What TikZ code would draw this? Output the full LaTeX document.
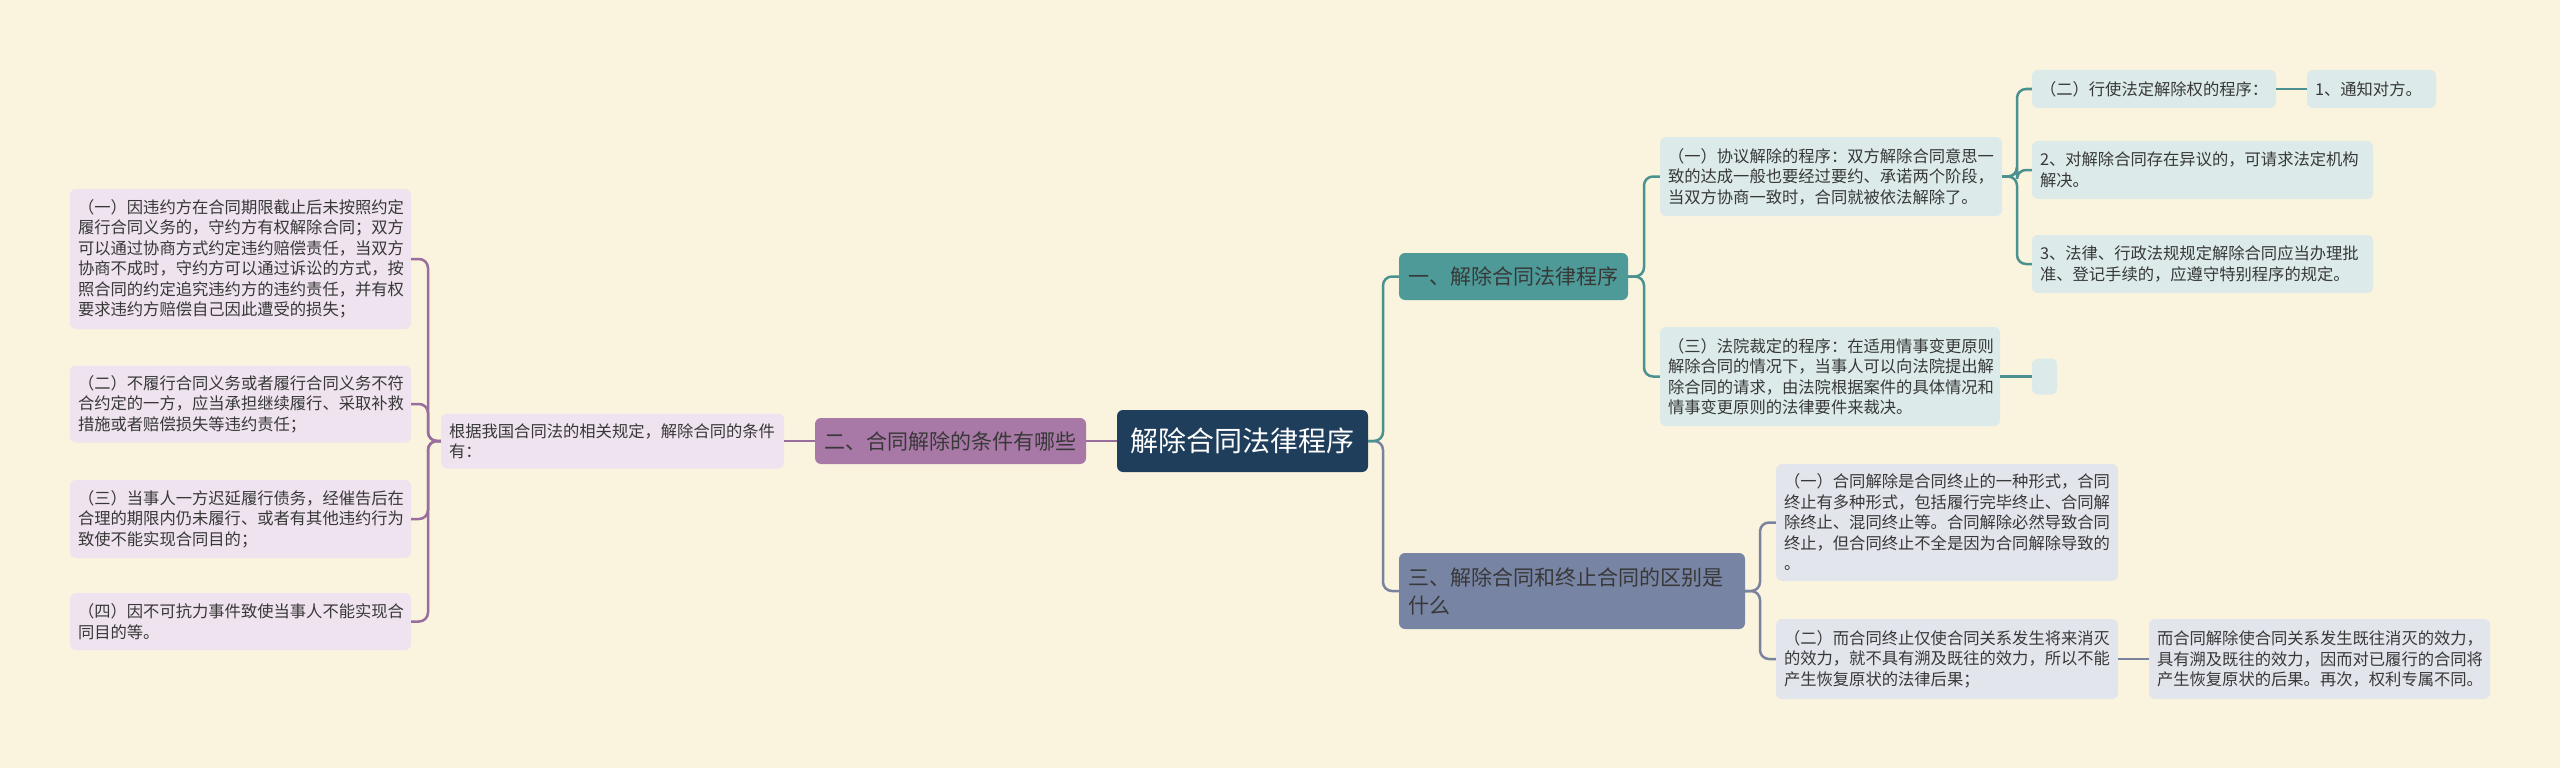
\documentclass[tikz,border=0pt]{standalone}
\usepackage{fontspec}
\setmainfont{Noto Sans CJK SC}
\definecolor{bg}{HTML}{FAF4DF}
\definecolor{navy}{HTML}{1F3E5C}
\definecolor{tealbr}{HTML}{4E9A98}
\definecolor{purbr}{HTML}{A878A6}
\definecolor{greybr}{HTML}{7884A3}
\definecolor{tealleaf}{HTML}{DCEAEA}
\definecolor{purleaf}{HTML}{EEE3EE}
\definecolor{greyleaf}{HTML}{E3E5EC}
\definecolor{tealline}{HTML}{4B918F}
\definecolor{purline}{HTML}{9A6E9C}
\definecolor{greyline}{HTML}{7A839E}
\definecolor{txt}{HTML}{383838}
\tikzset{
  leaf/.style={rounded corners=6pt, align=left, inner xsep=8pt, inner ysep=0pt,
    font=\fontsize{16.3}{20.5}\selectfont, text=txt},
  tleaf/.style={leaf, fill=tealleaf},
  pleaf/.style={leaf, fill=purleaf},
  gleaf/.style={leaf, fill=greyleaf},
  branch/.style={rounded corners=6pt, inner xsep=9pt, inner ysep=0pt,
    font=\fontsize{21}{28}\selectfont, text=txt},
  tlink/.style={draw=tealline, line width=2.5pt, rounded corners=9pt},
  plink/.style={draw=purline, line width=2.5pt, rounded corners=9pt},
  glink/.style={draw=greyline, line width=2.5pt, rounded corners=9pt}
}
\begin{document}
\begin{tikzpicture}[x=1pt,y=-1pt]
\fill[bg] (0,0) rectangle (2560,768);
\useasboundingbox (0,0) rectangle (2560,768);

% root
\node[fill=navy, rounded corners=6pt, text=white, font=\fontsize{28}{34}\selectfont,
  minimum width=251pt, minimum height=62pt, inner sep=0pt] (root) at (1242.5,441) {解除合同法律程序};

% left branch
\node[branch, fill=purbr, minimum width=271pt, minimum height=46pt] (b2) at (950.5,441) {二、合同解除的条件有哪些};
\node[pleaf, text width=327pt, minimum height=55pt] (gen) at (612.5,441) {根据我国合同法的相关规定，解除合同的条件\\有：};
\node[pleaf, text width=325pt, minimum height=140pt] (L1) at (240.5,259) {（一）因违约方在合同期限截止后未按照约定\\履行合同义务的，守约方有权解除合同；双方\\可以通过协商方式约定违约赔偿责任，当双方\\协商不成时，守约方可以通过诉讼的方式，按\\照合同的约定追究违约方的违约责任，并有权\\要求违约方赔偿自己因此遭受的损失；};
\node[pleaf, text width=325pt, minimum height=77pt] (L2) at (240.5,404) {（二）不履行合同义务或者履行合同义务不符\\合约定的一方，应当承担继续履行、采取补救\\措施或者赔偿损失等违约责任；};
\node[pleaf, text width=325pt, minimum height=78pt] (L3) at (240.5,519) {（三）当事人一方迟延履行债务，经催告后在\\合理的期限内仍未履行、或者有其他违约行为\\致使不能实现合同目的；};
\node[pleaf, text width=325pt, minimum height=57pt] (L4) at (240.5,621.5) {（四）因不可抗力事件致使当事人不能实现合\\同目的等。};

% right branch 1
\node[branch, fill=tealbr, minimum width=229pt, minimum height=47pt] (b1) at (1513.5,276.5) {一、解除合同法律程序};
\node[tleaf, text width=326pt, minimum height=79pt] (xieyi) at (1831,176.5) {（一）协议解除的程序：双方解除合同意思一\\致的达成一般也要经过要约、承诺两个阶段，\\当双方协商一致时，合同就被依法解除了。};
\node[tleaf, text width=324pt, minimum height=99pt] (fayuan) at (1830,376.5) {（三）法院裁定的程序：在适用情事变更原则\\解除合同的情况下，当事人可以向法院提出解\\除合同的请求，由法院根据案件的具体情况和\\情事变更原则的法律要件来裁决。};
\node[tleaf, text width=228pt, minimum height=38pt] (xingshi) at (2154,89) {（二）行使法定解除权的程序：};
\node[tleaf, text width=113pt, minimum height=38pt] (tongzhi) at (2371.5,89) {1、通知对方。};
\node[tleaf, text width=325pt, minimum height=58pt] (p2) at (2202.5,170) {2、对解除合同存在异议的，可请求法定机构\\解决。};
\node[tleaf, text width=325pt, minimum height=58pt] (p3) at (2202.5,264) {3、法律、行政法规规定解除合同应当办理批\\准、登记手续的，应遵守特别程序的规定。};
\node[tleaf, inner xsep=0pt, minimum width=25pt, minimum height=36pt] (empty) at (2044.5,376.5) {};

% right branch 3
\node[branch, fill=greybr, align=left, text width=328pt, minimum height=76pt] (b3) at (1572,591) {三、解除合同和终止合同的区别是\\什么};
\node[gleaf, text width=326pt, minimum height=117pt] (h1) at (1947,522.5) {（一）合同解除是合同终止的一种形式，合同\\终止有多种形式，包括履行完毕终止、合同解\\除终止、混同终止等。合同解除必然导致合同\\终止，但合同终止不全是因为合同解除导致的\\。};
\node[gleaf, text width=326pt, minimum height=80pt] (h2) at (1947,659) {（二）而合同终止仅使合同关系发生将来消灭\\的效力，就不具有溯及既往的效力，所以不能\\产生恢复原状的法律后果；};
\node[gleaf, text width=325pt, minimum height=80pt] (h3) at (2319.5,659) {而合同解除使合同关系发生既往消灭的效力，\\具有溯及既往的效力，因而对已履行的合同将\\产生恢复原状的后果。再次，权利专属不同。};

% junction coordinates
\coordinate (jl) at (428,441);
\coordinate (jr) at (1383,441);
\coordinate (j1) at (1644,276.5);
\coordinate (j2) at (2017,176.5);
\coordinate (j3) at (1760,591);

% connectors
\draw[plink] (root.west) -- (b2.east);
\draw[plink] (b2.west) -- (gen.east);
\draw[plink] (gen.west) -- (jl) |- (L1.east);
\draw[plink] (gen.west) -- (jl) |- (L2.east);
\draw[plink] (gen.west) -- (jl) |- (L3.east);
\draw[plink] (gen.west) -- (jl) |- (L4.east);

\draw[glink] (root.east) -- (jr) |- (b3.west);
\draw[tlink] (root.east) -- (jr) |- (b1.west);
\draw[tlink] (b1.east) -- (j1) |- (xieyi.west);
\draw[tlink] (b1.east) -- (j1) |- (fayuan.west);
\draw[tlink] (xieyi.east) -- (j2) |- (xingshi.west);
\draw[tlink] (xieyi.east) -- (j2) |- (p2.west);
\draw[tlink] (xieyi.east) -- (j2) |- (p3.west);
\draw[tlink] (xingshi.east) -- (tongzhi.west);
\draw[tlink] (fayuan.east) -- (empty.west);

\draw[glink] (b3.east) -- (j3) |- (h1.west);
\draw[glink] (b3.east) -- (j3) |- (h2.west);
\draw[glink] (h2.east) -- (h3.west);
\end{tikzpicture}
\end{document}
